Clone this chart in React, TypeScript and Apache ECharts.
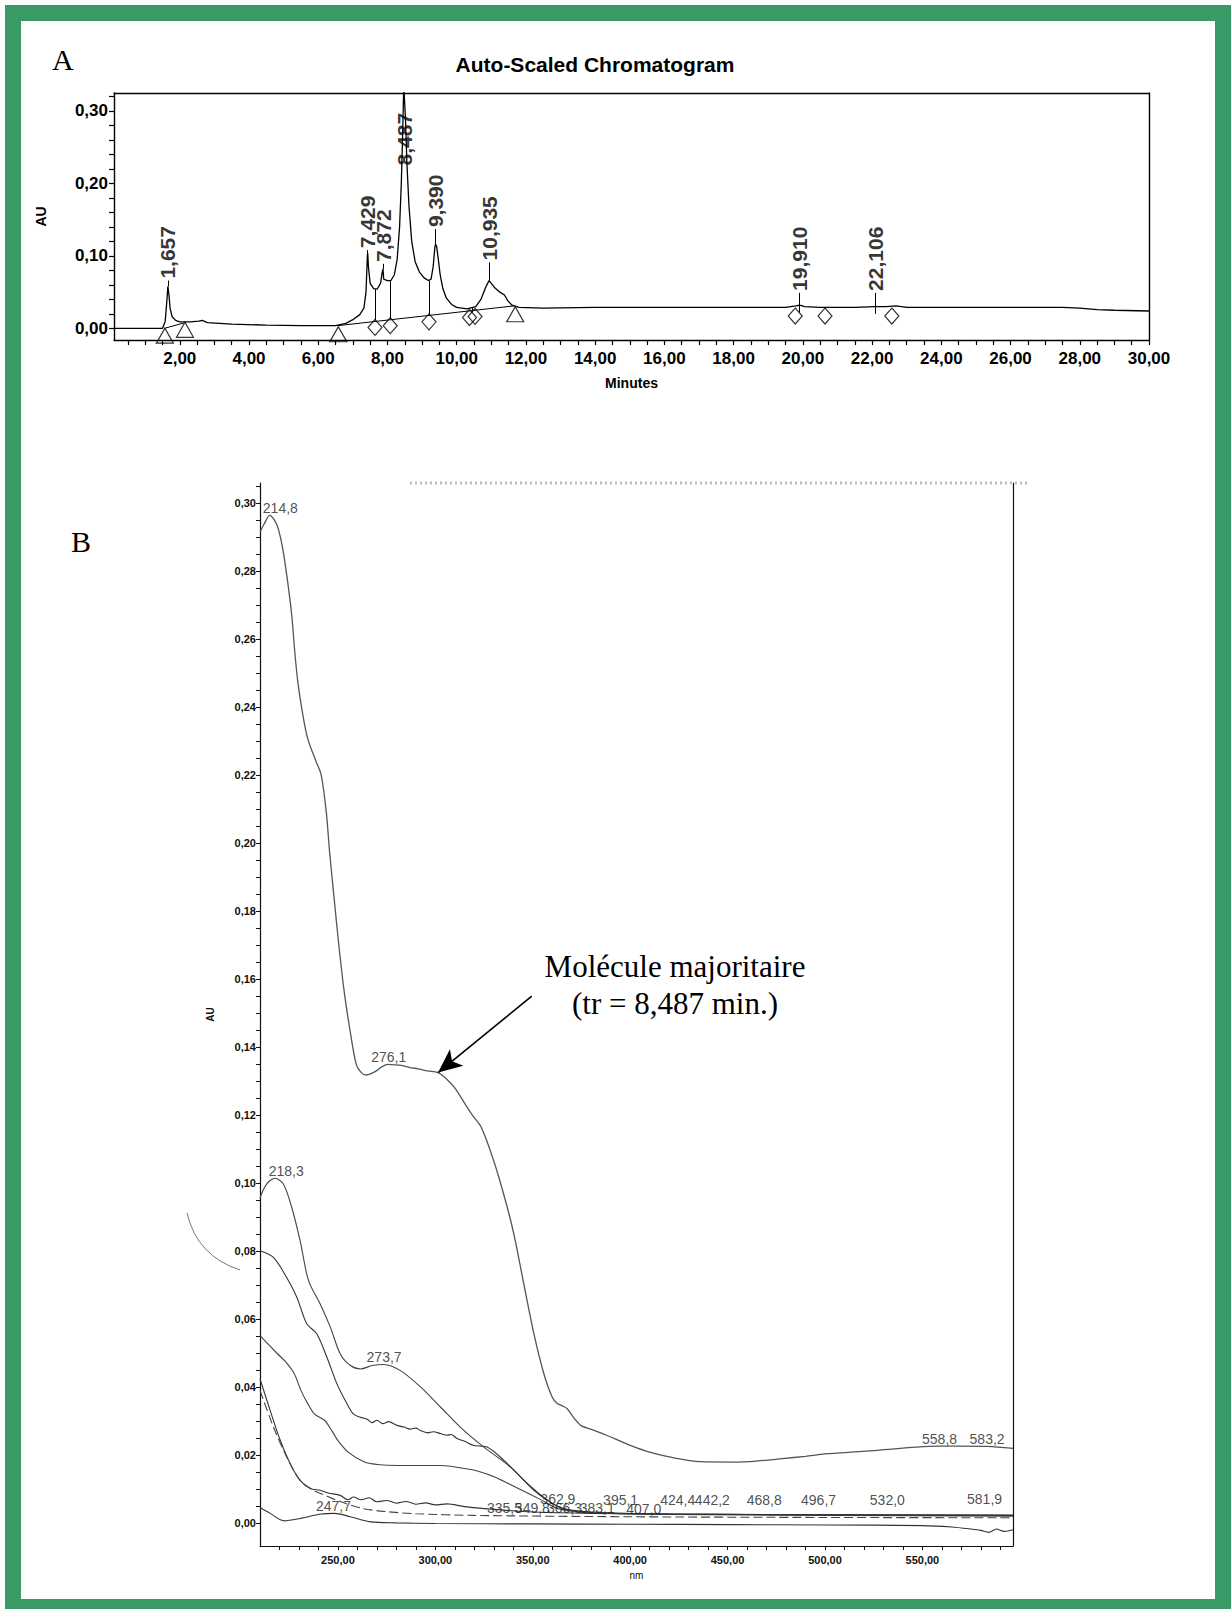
import { useEffect, useRef } from 'react';
import * as echarts from 'echarts';

const FONT = '"Liberation Sans", Arial, Helvetica, sans-serif';
const SERIF = '"Liberation Serif", "Times New Roman", serif';

// ---------------- Chart A : Auto-Scaled Chromatogram ----------------
const chromTrace: [number, number][] = [
  [0.1, 0.0], [1.0, 0.0], [1.5, 0.0], [1.58, 0.01], [1.63, 0.04], [1.657, 0.058], [1.69, 0.045],
  [1.72, 0.028], [1.78, 0.016], [1.88, 0.011], [2.0, 0.009], [2.3, 0.009], [2.55, 0.01], [2.65, 0.011],
  [2.8, 0.008], [3.5, 0.006], [4.5, 0.0045], [5.5, 0.0038], [6.5, 0.0038], [6.8, 0.007], [7.0, 0.012],
  [7.2, 0.019], [7.32, 0.028], [7.38, 0.05], [7.42, 0.1], [7.429, 0.104], [7.45, 0.085], [7.5, 0.062],
  [7.6, 0.055], [7.7, 0.054], [7.8, 0.062], [7.85, 0.078], [7.872, 0.082], [7.89, 0.068], [8.0, 0.066],
  [8.1, 0.066], [8.2, 0.074], [8.28, 0.095], [8.35, 0.14], [8.4, 0.2], [8.44, 0.27], [8.47, 0.335],
  [8.487, 0.335], [8.52, 0.29], [8.56, 0.23], [8.62, 0.17], [8.7, 0.12], [8.8, 0.092], [8.92, 0.078],
  [9.05, 0.07], [9.18, 0.066], [9.26, 0.068], [9.32, 0.085], [9.37, 0.112], [9.39, 0.116], [9.42, 0.113],
  [9.47, 0.095], [9.52, 0.075], [9.6, 0.055], [9.7, 0.042], [9.85, 0.033], [10.0, 0.029], [10.3, 0.027],
  [10.55, 0.03], [10.7, 0.04], [10.85, 0.058], [10.935, 0.066], [11.0, 0.062], [11.1, 0.056], [11.25, 0.05],
  [11.38, 0.046], [11.48, 0.038], [11.6, 0.032], [11.8, 0.029], [12.5, 0.028], [14, 0.029], [16, 0.029],
  [18, 0.029], [19.5, 0.029], [19.8, 0.031], [19.91, 0.032], [20.05, 0.03], [20.5, 0.029], [21.5, 0.029],
  [22.1, 0.03], [22.4, 0.03], [22.7, 0.031], [23, 0.029], [24, 0.029], [26, 0.029], [27.5, 0.029],
  [28, 0.028], [28.5, 0.026], [29, 0.025], [30, 0.024],
];
const peakRT = [1.657, 7.429, 7.872, 8.487, 9.39, 10.935, 19.91, 22.106];
const peakApexAU = [0.058, 0.104, 0.082, 0.3, 0.116, 0.066, 0.022, 0.02];
const peakLabelAU = [0.068, 0.11, 0.091, 0.224, 0.139, 0.093, 0.051, 0.051];
const peakLabels = ['1,657', '7,429', '7,872', '8,487', '9,390', '10,935', '19,910', '22,106'];
const dropRT = [7.64, 8.08, 9.2, 10.45];
const dropTopAU = [0.054, 0.066, 0.066, 0.028];
const dropBottomAU = [0.011, 0.013, 0.018, 0.022];
const baselineSegments: [number, number, number, number][] = [
  [1.55, 0.0, 2.12, 0.0075],
  [6.55, 0.0037, 11.65, 0.031],
];
const triangleRT = [1.57, 2.15, 6.58, 11.69];
const triangleAU = [-0.01, -0.002, -0.008, 0.0195];
const diamondRT = [7.64, 8.08, 9.2, 10.37, 10.53, 19.78, 20.64, 22.57];
const diamondAU = [0.0013, 0.0037, 0.009, 0.015, 0.0165, 0.017, 0.017, 0.017];
const chromXLabels = [2, 4, 6, 8, 10, 12, 14, 16, 18, 20, 22, 24, 26, 28, 30];
const chromYLabels = [0, 0.1, 0.2, 0.3];

// ---------------- Chart B : UV spectra ----------------
const specMain: [number, number][] = [
  [210, 0.2915], [212.2, 0.294], [215, 0.2965], [217.5, 0.295], [219.4, 0.2925], [221.7, 0.2866],
  [224.2, 0.2769], [226.3, 0.2671], [227.7, 0.2573], [229.4, 0.2475], [232, 0.2377], [234.5, 0.2308],
  [238.8, 0.224], [241.4, 0.2201], [244, 0.2093], [245.7, 0.1976], [248.2, 0.1829], [250.8, 0.1682],
  [253.4, 0.1555], [256, 0.1457], [259.4, 0.1349], [262, 0.1325], [264.5, 0.1318], [267, 0.1322],
  [269.7, 0.133], [272.5, 0.1342], [275.7, 0.1349], [279, 0.1348], [282.5, 0.1346], [287, 0.134],
  [291.1, 0.1336], [296, 0.133], [301.4, 0.1325], [306, 0.1305], [310, 0.128], [315, 0.1235],
  [319, 0.12], [323.5, 0.1165], [330, 0.1065], [336, 0.0948], [340.3, 0.085], [345.4, 0.0703],
  [350.6, 0.0556], [355.7, 0.0439], [360, 0.037], [362.6, 0.0351], [365, 0.0345], [367.7, 0.0336],
  [371, 0.031], [374.6, 0.0287], [380, 0.0275], [384.9, 0.0265], [392, 0.0248], [400, 0.0228],
  [410, 0.0208], [420, 0.0194], [436, 0.018], [453, 0.0179], [465, 0.0182], [478, 0.0189],
  [490, 0.0196], [500, 0.0203], [521, 0.0211], [547, 0.0223], [558.8, 0.0226], [568, 0.0226],
  [583.2, 0.0225], [596.5, 0.0219],
];
const spec2: [number, number][] = [
  [210, 0.0957], [213.4, 0.0997], [217.7, 0.1014], [222, 0.0997], [226.3, 0.0928], [230.6, 0.083],
  [234.9, 0.0713], [240.9, 0.0644], [246.1, 0.0576], [251.2, 0.0497], [256.4, 0.0463], [261.6, 0.0453],
  [267.6, 0.0463], [273.5, 0.0466], [282.1, 0.0448], [292.4, 0.04], [302.6, 0.0341], [314.6, 0.0272],
  [324.9, 0.0223], [338.6, 0.0164], [350.6, 0.0096], [357.5, 0.0067], [366, 0.004], [380, 0.003],
  [420, 0.0025], [500, 0.0022], [596.5, 0.002],
];
const spec3: [number, number][] = [
  [210, 0.0801], [216.9, 0.0781], [223.7, 0.0722], [228.9, 0.0664], [234, 0.0586], [239.2, 0.0556],
  [244.3, 0.0488], [249.5, 0.0409], [254.6, 0.0351], [258, 0.032], [261.5, 0.0311], [265, 0.0305],
  [267.5, 0.0295], [270, 0.0302], [273, 0.0292], [276, 0.0298], [280.3, 0.0287], [284, 0.0282],
  [287, 0.0276], [290, 0.0279], [292.3, 0.0272], [296, 0.0265], [299, 0.0268], [302.6, 0.0263],
  [306, 0.0258], [308, 0.026], [311.2, 0.0248], [315, 0.024], [319.8, 0.0228], [326.6, 0.0223],
  [335.2, 0.0184], [347.2, 0.0116], [357.5, 0.0067], [366, 0.0042], [380, 0.0032], [420, 0.0026],
  [500, 0.0024], [596.5, 0.0022],
];
const spec4: [number, number][] = [
  [210, 0.0551], [219.1, 0.0497], [223, 0.0475], [227.6, 0.0439], [231, 0.039], [234.5, 0.0351],
  [238, 0.032], [243.1, 0.0302], [247, 0.027], [249.9, 0.0243], [255.1, 0.0209], [263.6, 0.0179],
  [270, 0.0172], [280.8, 0.0169], [303.1, 0.0169], [315.1, 0.016], [322, 0.0152], [330.5, 0.0135],
  [342.6, 0.0101], [354.6, 0.0067], [363, 0.0042], [380, 0.003], [420, 0.0026], [500, 0.0024],
  [596.5, 0.0022],
];
const spec5: [number, number][] = [
  [210, 0.0424], [215.2, 0.0331], [220.4, 0.0243], [225.5, 0.0174], [230.6, 0.0125], [235.8, 0.0101],
  [240.9, 0.0096], [245, 0.0088], [251.2, 0.0081], [255, 0.0068], [258, 0.0076], [262, 0.0068],
  [266, 0.0074], [270, 0.0062], [275, 0.0066], [280, 0.0058], [285, 0.0063], [290, 0.0055],
  [295, 0.0059], [300, 0.0053], [306, 0.0056], [315, 0.0048], [332, 0.0039], [350, 0.0032],
  [380, 0.0028], [450, 0.0025], [596.5, 0.0022],
];
const spec6: [number, number][] = [
  [210, 0.039], [216.9, 0.0282], [223.7, 0.0194], [230.6, 0.0125], [237.5, 0.0096], [243, 0.0082],
  [250, 0.0065], [263, 0.0042], [275, 0.0033], [290, 0.0027], [320, 0.0022], [400, 0.0018],
  [500, 0.0016], [596.5, 0.0015],
];
const spec7: [number, number][] = [
  [210, 0.0045], [215.2, 0.0028], [222.5, 0.0006], [230.6, 0.0013], [241.3, 0.0026], [248.2, 0.0028],
  [256.4, 0.0018], [266.7, 0.0003], [280, 0.0], [300, -0.0002], [350, -0.0003], [400, -0.0004],
  [450, -0.0005], [500, -0.0006], [550, -0.0008], [565, -0.0012], [575, -0.0018], [580, -0.0022],
  [584, -0.0028], [588, -0.0018], [592, -0.0025], [596.5, -0.002],
];
const specLabelNm = [214.8, 218.3, 276.1, 273.7, 247.7, 558.8, 583.2,
  362.9, 395.1, 424.4, 442.2, 468.8, 496.7, 532.0, 581.9,
  335.5, 349.8, 366.3, 383.1, 407.0];
const specLabelAU = [0.2965, 0.1014, 0.1349, 0.0466, 0.0028, 0.0226, 0.0225,
  0.0048, 0.0046, 0.0046, 0.0046, 0.0046, 0.0046, 0.0046, 0.0049,
  0.0021, 0.0021, 0.0021, 0.0021, 0.0020];
const specLabelOffsetX = [11, 10, 0, 0, 0, 0, 0,
  0, 0, 0, 0, 0, 0, 0, 0,
  0, 0, 0, 0, 0];
const specXLabels = [250, 300, 350, 400, 450, 500, 550];
const specYLabels = [0, 0.02, 0.04, 0.06, 0.08, 0.1, 0.12, 0.14, 0.16, 0.18, 0.2, 0.22, 0.24, 0.26, 0.28, 0.3];
const arrowFrom: [number, number] = [349.5, 0.155];
const arrowTo: [number, number] = [301.4, 0.1325];

const fmt2 = (v: number) => v.toFixed(2).replace('.', ',');
const steps = (a: number, b: number, s: number) => {
  const out: number[] = [];
  for (let i = 0; a + i * s <= b + 1e-9; i++) out.push(+(a + i * s).toFixed(4));
  return out;
};

export default function App() {
  const ref = useRef<HTMLDivElement>(null);
  useEffect(() => {
    if (!ref.current) return;
    const chart = echarts.init(ref.current, null, { renderer: 'svg' });

    const segLines: any[] = [];
    baselineSegments.forEach(([x1, y1, x2, y2]) => segLines.push([{ coord: [x1, y1] }, { coord: [x2, y2] }]));
    dropRT.forEach((t, i) => segLines.push([{ coord: [t, dropTopAU[i]] }, { coord: [t, dropBottomAU[i]] }]));
    peakRT.forEach((t, i) => {
      if (i === 3) return;
      segLines.push([{ coord: [t, peakApexAU[i]] }, { coord: [t, peakLabelAU[i] - 0.002] }]);
    });

    const axisBlack = { color: '#000', width: 1.4 };
    const borderAxis = (grid: number, pos: string, min: number, max: number, style: any) => ({
      type: 'value', gridIndex: grid, position: pos, min, max,
      axisLine: { show: true, onZero: false, lineStyle: style },
      axisTick: { show: false }, axisLabel: { show: false }, splitLine: { show: false },
    });

    const option: any = {
      animation: false,
      backgroundColor: '#ffffff',
      textStyle: { fontFamily: FONT },
      grid: [
        { left: 114, top: 93, width: 1035, height: 247, outerBoundsMode: 'none', containLabel: false },
        { left: 260, top: 483, width: 753, height: 1063, outerBoundsMode: 'none', containLabel: false },
      ],
      xAxis: [
        {
          type: 'value', gridIndex: 0, position: 'bottom', min: 0.1, max: 30,
          axisLine: { show: true, onZero: false, lineStyle: axisBlack },
          axisTick: { show: true, customValues: steps(0.5, 30, 0.5), length: 5, lineStyle: { color: '#000', width: 1.2 } },
          axisLabel: { customValues: chromXLabels, formatter: (v: number) => fmt2(v), fontSize: 17, fontWeight: 'bold', color: '#000', margin: 10, fontFamily: FONT },
          splitLine: { show: false },
          name: 'Minutes', nameLocation: 'middle', nameGap: 36,
          nameTextStyle: { fontSize: 14, fontWeight: 'bold', color: '#000', fontFamily: FONT },
        },
        borderAxis(0, 'top', 0.1, 30, axisBlack),
        {
          type: 'value', gridIndex: 1, position: 'bottom', min: 210, max: 596.5,
          axisLine: { show: true, onZero: false, lineStyle: { color: '#111', width: 1.2 } },
          axisTick: { show: true, customValues: steps(220, 590, 10), length: 4, lineStyle: { color: '#111', width: 1 } },
          axisLabel: { customValues: specXLabels, formatter: (v: number) => fmt2(v), fontSize: 11, fontWeight: 'bold', color: '#111', margin: 8, fontFamily: FONT },
          splitLine: { show: false },
          name: 'nm', nameLocation: 'middle', nameGap: 24,
          nameTextStyle: { fontSize: 10, color: '#111', fontFamily: FONT },
        },
      ],
      yAxis: [
        {
          type: 'value', gridIndex: 0, position: 'left', min: -0.016, max: 0.3246,
          axisLine: { show: true, onZero: false, lineStyle: axisBlack },
          axisTick: { show: true, customValues: steps(0, 0.32, 0.02), length: 5, lineStyle: { color: '#000', width: 1.2 } },
          axisLabel: { customValues: chromYLabels, formatter: (v: number) => fmt2(v), fontSize: 17, fontWeight: 'bold', color: '#000', margin: 6, fontFamily: FONT },
          splitLine: { show: false },
          name: 'AU', nameLocation: 'middle', nameGap: 66, nameRotate: 90,
          nameTextStyle: { fontSize: 14, fontWeight: 'bold', color: '#000', fontFamily: FONT },
        },
        borderAxis(0, 'right', -0.016, 0.3246, axisBlack),
        {
          type: 'value', gridIndex: 1, position: 'left', min: -0.0068, max: 0.306,
          axisLine: { show: true, onZero: false, lineStyle: { color: '#111', width: 1.2 } },
          axisTick: { show: true, customValues: steps(0, 0.305, 0.005), length: 4, lineStyle: { color: '#111', width: 1 } },
          axisLabel: { customValues: specYLabels, formatter: (v: number) => fmt2(v), fontSize: 11, fontWeight: 'bold', color: '#111', margin: 4, fontFamily: FONT },
          splitLine: { show: false },
          name: 'AU', nameLocation: 'middle', nameGap: 45, nameRotate: 90,
          nameTextStyle: { fontSize: 10, fontWeight: 'bold', color: '#111', fontFamily: FONT },
        },
        borderAxis(1, 'right', -0.0068, 0.306, { color: '#111', width: 1.2 }),
      ],
      series: [
        {
          type: 'line', xAxisIndex: 0, yAxisIndex: 0, data: chromTrace, showSymbol: false, symbol: 'none',
          lineStyle: { color: '#000', width: 1.3 }, silent: true, z: 3,
          markLine: {
            silent: true, symbol: ['none', 'none'], label: { show: false },
            lineStyle: { color: '#000', width: 1, type: 'solid' }, emphasis: { disabled: true },
            data: segLines,
          },
        },
        {
          type: 'scatter', xAxisIndex: 0, yAxisIndex: 0, symbol: 'triangle', symbolSize: [17, 15],
          itemStyle: { color: 'rgba(255,255,255,0)', borderColor: '#000', borderWidth: 1.2 },
          data: triangleRT.map((t, i) => [t, triangleAU[i]]), silent: true, z: 4,
        },
        {
          type: 'scatter', xAxisIndex: 0, yAxisIndex: 0, symbol: 'diamond', symbolSize: [14, 16],
          itemStyle: { color: 'rgba(255,255,255,0)', borderColor: '#000', borderWidth: 1.2 },
          data: diamondRT.map((t, i) => [t, diamondAU[i]]), silent: true, z: 4,
        },
        {
          type: 'scatter', xAxisIndex: 0, yAxisIndex: 0, symbolSize: 1,
          itemStyle: { color: 'rgba(0,0,0,0)' }, silent: true, z: 5,
          data: peakRT.map((t, i) => [t, peakLabelAU[i], peakLabels[i]]),
          label: {
            show: true, position: 'top', distance: 0, rotate: 90, align: 'left', verticalAlign: 'middle',
            formatter: (p: any) => p.data[2], fontSize: 21, fontWeight: 'bold', color: '#000', fontFamily: FONT,
          },
        },
        // Chart B curves
        {
          type: 'line', xAxisIndex: 2, yAxisIndex: 2, data: specMain, showSymbol: false, symbol: 'none', smooth: 0.3,
          lineStyle: { color: '#555', width: 1.3 }, silent: true, z: 3,
          markLine: {
            silent: true, label: { show: false }, emphasis: { disabled: true },
            lineStyle: { color: '#000', width: 1.6, type: 'solid' },
            data: [[{ coord: arrowFrom, symbol: 'none' }, { coord: arrowTo, symbol: 'arrow', symbolSize: [16, 24] }]],
          },
        },
        { type: 'line', xAxisIndex: 2, yAxisIndex: 2, data: spec2, showSymbol: false, symbol: 'none', smooth: 0.3, lineStyle: { color: '#444', width: 1.1 }, silent: true },
        { type: 'line', xAxisIndex: 2, yAxisIndex: 2, data: spec3, showSymbol: false, symbol: 'none', smooth: 0.3, lineStyle: { color: '#333', width: 1.1 }, silent: true },
        { type: 'line', xAxisIndex: 2, yAxisIndex: 2, data: spec4, showSymbol: false, symbol: 'none', smooth: 0.3, lineStyle: { color: '#444', width: 1.1 }, silent: true },
        { type: 'line', xAxisIndex: 2, yAxisIndex: 2, data: spec5, showSymbol: false, symbol: 'none', smooth: 0.3, lineStyle: { color: '#333', width: 1.1 }, silent: true },
        { type: 'line', xAxisIndex: 2, yAxisIndex: 2, data: spec6, showSymbol: false, symbol: 'none', smooth: 0.3, lineStyle: { color: '#444', width: 1.1, type: [9, 4] }, silent: true },
        { type: 'line', xAxisIndex: 2, yAxisIndex: 2, data: spec7, showSymbol: false, symbol: 'none', smooth: 0.3, lineStyle: { color: '#333', width: 1.1 }, silent: true },
        {
          type: 'scatter', xAxisIndex: 2, yAxisIndex: 2, symbolSize: 1,
          itemStyle: { color: 'rgba(0,0,0,0)' }, silent: true, z: 5,
          data: specLabelNm.map((n, i) => ({
            value: [n, specLabelAU[i], n.toFixed(1).replace('.', ',')],
            label: { offset: [specLabelOffsetX[i], 0] },
          })),
          label: {
            show: true, position: 'top', distance: 0,
            formatter: (p: any) => p.value[2], fontSize: 14, color: '#222', fontFamily: FONT,
          },
        },
      ],
      graphic: [
        {
          type: 'rect', z: 100, silent: true,
          shape: { x: 13, y: 13, width: 1210, height: 1594 },
          style: { fill: 'none', stroke: '#389b68', lineWidth: 16 },
        },
        {
          type: 'text', x: 52, y: 74, silent: true,
          style: { text: 'A', font: `30px ${SERIF}`, fill: '#000', textAlign: 'left', align: 'left', textVerticalAlign: 'bottom', verticalAlign: 'bottom' },
        },
        {
          type: 'text', x: 71, y: 556, silent: true,
          style: { text: 'B', font: `30px ${SERIF}`, fill: '#000', textAlign: 'left', align: 'left', textVerticalAlign: 'bottom', verticalAlign: 'bottom' },
        },
        {
          type: 'text', x: 595, y: 64, silent: true,
          style: { text: 'Auto-Scaled Chromatogram', font: `bold 21px ${FONT}`, fill: '#000', textAlign: 'center', align: 'center', textVerticalAlign: 'middle', verticalAlign: 'middle' },
        },
        {
          type: 'text', x: 675, y: 966, silent: true,
          style: { text: 'Molécule majoritaire', font: `31px ${SERIF}`, fill: '#000', textAlign: 'center', align: 'center', textVerticalAlign: 'middle', verticalAlign: 'middle' },
        },
        {
          type: 'text', x: 675, y: 1003, silent: true,
          style: { text: '(tr = 8,487 min.)', font: `31px ${SERIF}`, fill: '#000', textAlign: 'center', align: 'center', textVerticalAlign: 'middle', verticalAlign: 'middle' },
        },
        {
          type: 'line', silent: true,
          shape: { x1: 410, y1: 483, x2: 1030, y2: 483 },
          style: { stroke: '#bbb', lineWidth: 3, lineDash: [2, 3] },
        },
        {
          type: 'bezierCurve', silent: true,
          shape: { x1: 187, y1: 1213, x2: 240, y2: 1270, cpx1: 197, cpy1: 1256 },
          style: { stroke: '#777', lineWidth: 1, fill: 'none' },
        },
      ],
    };
    chart.setOption(option);
    return () => chart.dispose();
  }, []);
  return (
    <div
      ref={ref}
      style={{ position: 'absolute', left: 0, top: 0, width: 1231, height: 1609, background: '#fff' }}
    />
  );
}
